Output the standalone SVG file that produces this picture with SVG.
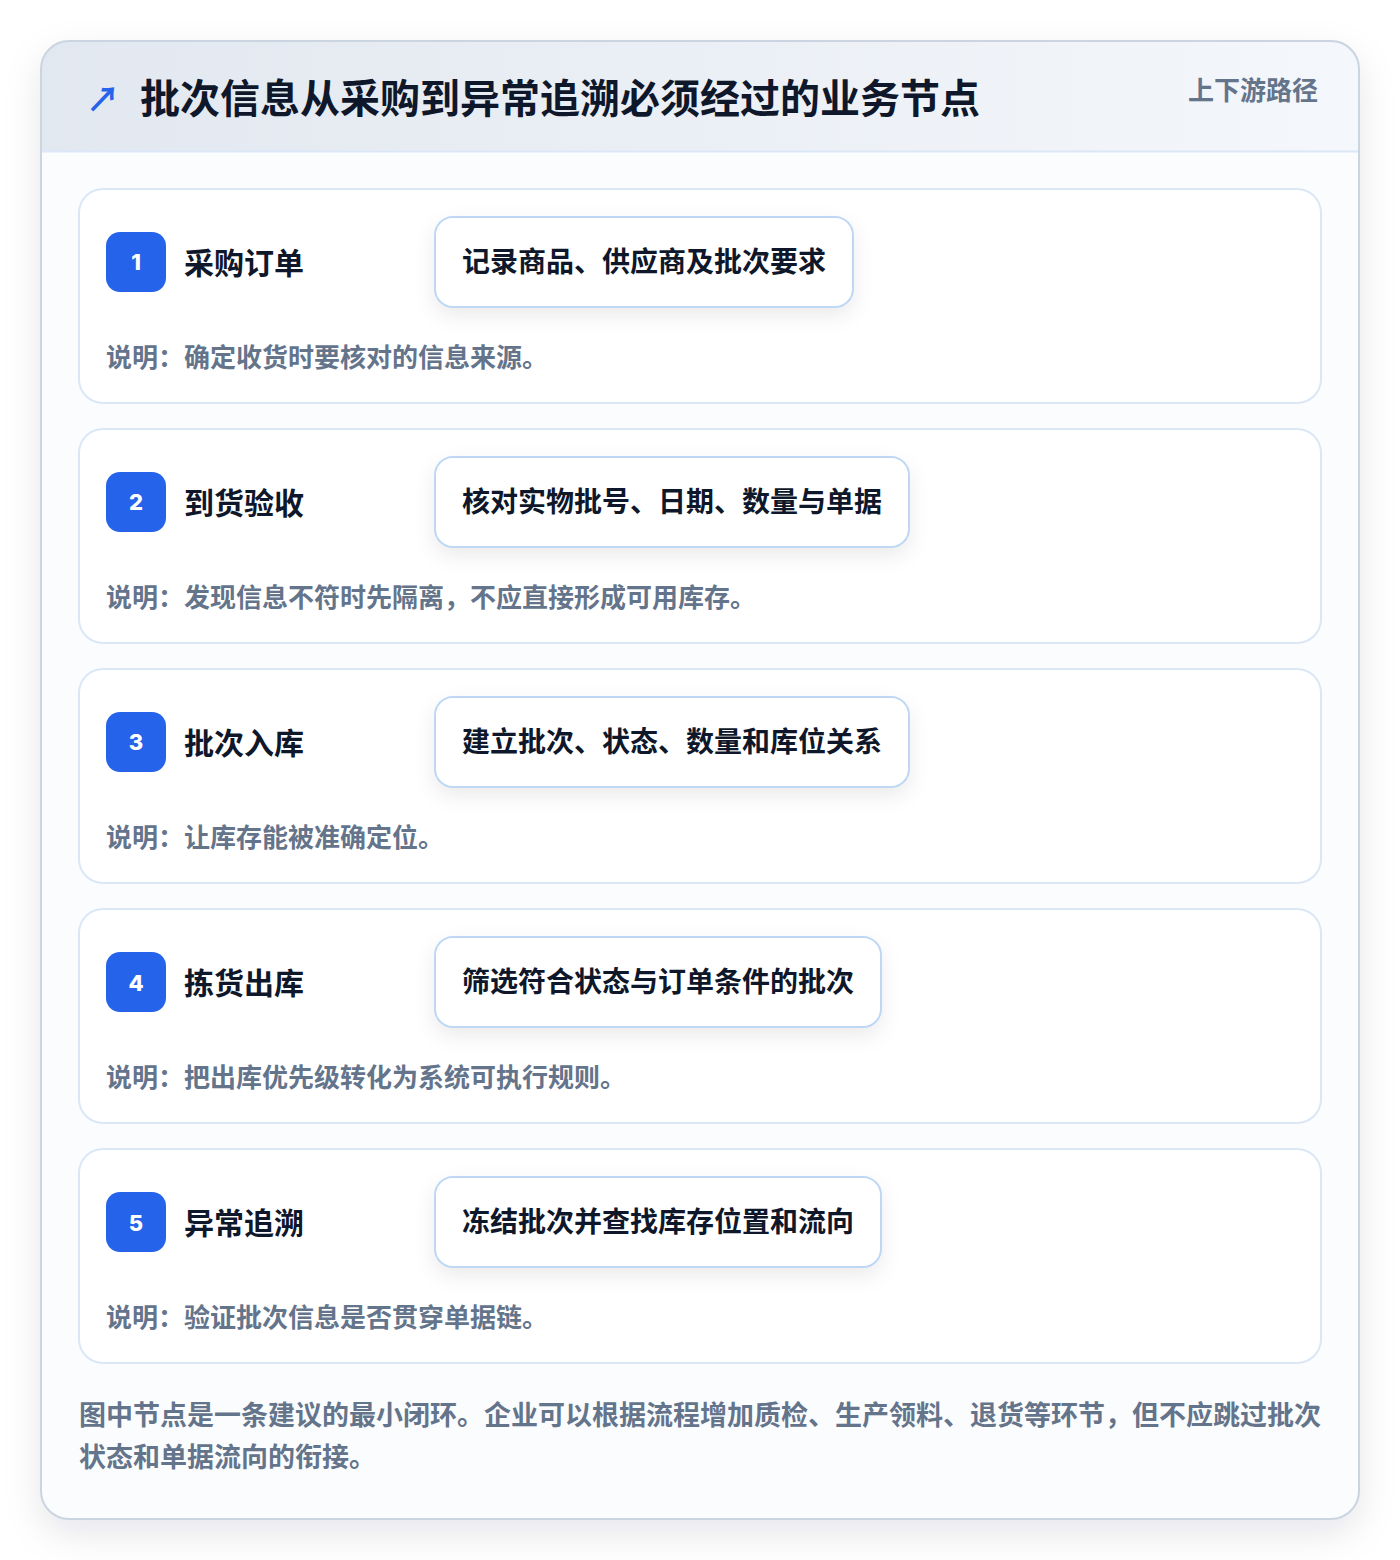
<svg xmlns="http://www.w3.org/2000/svg" width="1400" height="1560" viewBox="0 0 1400 1560">
<defs>
<linearGradient id="hdr" x1="0" y1="0" x2="1" y2="0"><stop offset="0" stop-color="#e2e8f0"/><stop offset="1" stop-color="#f4f7fb"/></linearGradient>
<filter id="sh" x="-10%" y="-10%" width="120%" height="120%"><feDropShadow dx="0" dy="14" stdDeviation="18" flood-color="#0f172a" flood-opacity="0.10"/></filter>
<filter id="psh" x="-20%" y="-40%" width="140%" height="180%"><feDropShadow dx="0" dy="8" stdDeviation="10" flood-color="#0f172a" flood-opacity="0.08"/></filter>
<clipPath id="cc"><rect x="41" y="41" width="1318" height="1478" rx="28"/></clipPath>
</defs>
<style>
text{font-family:"Noto Sans CJK SC","Noto Sans",sans-serif;font-weight:700}
.card{fill:#ffffff;stroke:#dbe7f7;stroke-width:2}
.badge{fill:#2563eb}
.num{fill:#ffffff;font-size:22px;font-weight:800;font-family:"Inter","Noto Sans CJK SC",sans-serif}
.name{fill:#0f172a;font-size:30px}
.pill{fill:#ffffff;stroke:#bfd7f5;stroke-width:2}
.pt{fill:#0f172a;font-size:28px}
.desc{fill:#64748b;font-size:26px}
</style>
<rect width="1400" height="1560" fill="#ffffff"/>
<g id="frame">
<rect x="41" y="41" width="1318" height="1478" rx="28" fill="#fbfcfe" filter="url(#sh)"/>
<rect x="41" y="41" width="1318" height="111" fill="url(#hdr)" clip-path="url(#cc)"/>
<line x1="41" y1="151.5" x2="1359" y2="151.5" stroke="#dbe7f7" stroke-width="2"/>
<rect x="41" y="41" width="1318" height="1478" rx="28" fill="none" stroke="#cbd5e1" stroke-width="2"/>
</g>
<g id="header">
<text x="86" y="97" dominant-baseline="central" fill="#2563eb" font-size="34">↗</text>
<text x="140" y="96" dominant-baseline="central" fill="#0f172a" font-size="40">批次信息从采购到异常追溯必须经过的业务节点</text>
<text x="1318" y="88" dominant-baseline="central" text-anchor="end" fill="#64748b" font-size="26">上下游路径</text>
</g>
<g id="step1">
<rect class="card" x="79" y="189" width="1242" height="214" rx="24"/>
<rect class="badge" x="106" y="232" width="60" height="60" rx="14"/>
<text class="num" x="136" y="262" dominant-baseline="central" text-anchor="middle">1</text>
<text class="name" x="184" y="261" dominant-baseline="central">采购订单</text>
<rect class="pill" x="435" y="217" width="418" height="90" rx="18" filter="url(#psh)"/>
<text class="pt" x="462" y="260" dominant-baseline="central">记录商品、供应商及批次要求</text>
<text class="desc" x="106" y="355" dominant-baseline="central">说明：确定收货时要核对的信息来源。</text>
</g>
<g id="step2">
<rect class="card" x="79" y="429" width="1242" height="214" rx="24"/>
<rect class="badge" x="106" y="472" width="60" height="60" rx="14"/>
<text class="num" x="136" y="502" dominant-baseline="central" text-anchor="middle">2</text>
<text class="name" x="184" y="501" dominant-baseline="central">到货验收</text>
<rect class="pill" x="435" y="457" width="474" height="90" rx="18" filter="url(#psh)"/>
<text class="pt" x="462" y="500" dominant-baseline="central">核对实物批号、日期、数量与单据</text>
<text class="desc" x="106" y="595" dominant-baseline="central">说明：发现信息不符时先隔离，不应直接形成可用库存。</text>
</g>
<g id="step3">
<rect class="card" x="79" y="669" width="1242" height="214" rx="24"/>
<rect class="badge" x="106" y="712" width="60" height="60" rx="14"/>
<text class="num" x="136" y="742" dominant-baseline="central" text-anchor="middle">3</text>
<text class="name" x="184" y="741" dominant-baseline="central">批次入库</text>
<rect class="pill" x="435" y="697" width="474" height="90" rx="18" filter="url(#psh)"/>
<text class="pt" x="462" y="740" dominant-baseline="central">建立批次、状态、数量和库位关系</text>
<text class="desc" x="106" y="835" dominant-baseline="central">说明：让库存能被准确定位。</text>
</g>
<g id="step4">
<rect class="card" x="79" y="909" width="1242" height="214" rx="24"/>
<rect class="badge" x="106" y="952" width="60" height="60" rx="14"/>
<text class="num" x="136" y="983" dominant-baseline="central" text-anchor="middle">4</text>
<text class="name" x="184" y="981" dominant-baseline="central">拣货出库</text>
<rect class="pill" x="435" y="937" width="446" height="90" rx="18" filter="url(#psh)"/>
<text class="pt" x="462" y="980" dominant-baseline="central">筛选符合状态与订单条件的批次</text>
<text class="desc" x="106" y="1075" dominant-baseline="central">说明：把出库优先级转化为系统可执行规则。</text>
</g>
<g id="step5">
<rect class="card" x="79" y="1149" width="1242" height="214" rx="24"/>
<rect class="badge" x="106" y="1192" width="60" height="60" rx="14"/>
<text class="num" x="136" y="1223" dominant-baseline="central" text-anchor="middle">5</text>
<text class="name" x="184" y="1221" dominant-baseline="central">异常追溯</text>
<rect class="pill" x="435" y="1177" width="446" height="90" rx="18" filter="url(#psh)"/>
<text class="pt" x="462" y="1220" dominant-baseline="central">冻结批次并查找库存位置和流向</text>
<text class="desc" x="106" y="1315" dominant-baseline="central">说明：验证批次信息是否贯穿单据链。</text>
</g>
<g id="connectors"></g>
<g id="footer">
<text x="79" y="1413" dominant-baseline="central" fill="#64748b" font-size="27">图中节点是一条建议的最小闭环。企业可以根据流程增加质检、生产领料、退货等环节，但不应跳过批次</text>
<text x="79" y="1455" dominant-baseline="central" fill="#64748b" font-size="27">状态和单据流向的衔接。</text>
</g>
</svg>
